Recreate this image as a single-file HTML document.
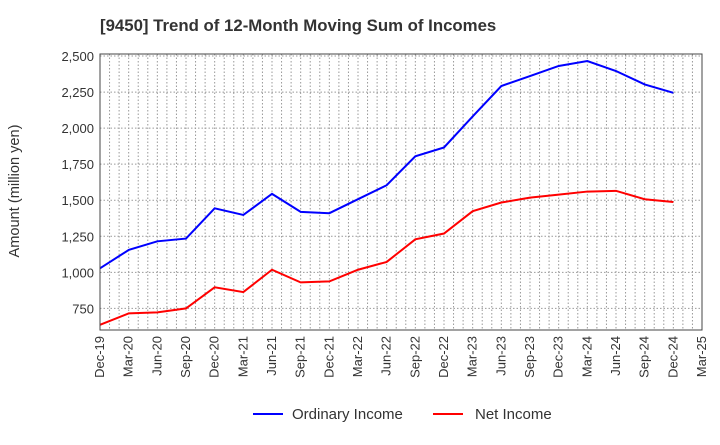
<!DOCTYPE html>
<html><head><meta charset="utf-8"><style>
body{margin:0;background:#fff;font-family:"Liberation Sans",sans-serif}
svg text{font-family:"Liberation Sans",sans-serif}
</style></head><body>
<svg width="720" height="440" id="c">
<text x="100" y="31" font-size="16.8" font-weight="bold" fill="#333">[9450]  Trend of 12-Month Moving Sum of Incomes</text>
<text transform="translate(19,191) rotate(-90)" text-anchor="middle" font-size="14.6" fill="#333">Amount (million yen)</text>
<g id="grid"></g><g id="series"></g><g id="axes"></g>
<g>
<line x1="253" y1="414" x2="283" y2="414" stroke="#0000ff" stroke-width="2"/>
<text x="292" y="419" font-size="15" fill="#333">Ordinary Income</text>
<line x1="433" y1="414" x2="463" y2="414" stroke="#ff0000" stroke-width="2"/>
<text x="475" y="419" font-size="15" fill="#333">Net Income</text>
</g>
</svg>
<script>
const categories=["Dec-19","Mar-20","Jun-20","Sep-20","Dec-20","Mar-21","Jun-21","Sep-21","Dec-21","Mar-22","Jun-22","Sep-22","Dec-22","Mar-23","Jun-23","Sep-23","Dec-23","Mar-24","Jun-24","Sep-24","Dec-24","Mar-25"];
const ordinaryIncome=[1028,1155,1215,1234,1444,1398,1544,1419,1410,1507,1604,1805,1866,2081,2292,2361,2431,2465,2396,2303,2245];
const netIncome=[636,715,722,750,896,863,1018,930,937,1018,1072,1229,1269,1424,1484,1518,1539,1560,1565,1507,1488];
const yTicks=[750,1000,1250,1500,1750,2000,2250,2500];
const L=100,R=702,T=54,B=330,YMIN=600,YMAX=2514;
const sx=i=>L+(R-L)*i/(categories.length-1);
const sy=v=>B-(B-T)*(v-YMIN)/(YMAX-YMIN);
const NS="http://www.w3.org/2000/svg";
function mk(t,a,p){const e=document.createElementNS(NS,t);for(const k in a)e.setAttribute(k,a[k]);p.appendChild(e);return e;}
const grid=document.getElementById('grid'),axes=document.getElementById('axes'),ser=document.getElementById('series');
for(let i=0;i<categories.length*3-2;i++){const x=L+(R-L)*i/((categories.length-1)*3);
const g=mk('line',{x1:x,x2:x,y1:T,y2:B,stroke:'#999','stroke-dasharray':'1.5,2','stroke-width':1},grid);

}
yTicks.forEach(v=>{const g=mk('line',{x1:L,x2:R,y1:sy(v),y2:sy(v),stroke:'#999','stroke-dasharray':'1.5,2','stroke-width':1},grid);


const t=mk('text',{x:L-6,y:sy(v)+5,'text-anchor':'end','font-size':13,fill:'#333'},axes);t.textContent=v.toLocaleString('en-US');

});
categories.forEach((c,i)=>{const x=sx(i);const t=mk('text',{transform:`translate(${x+4},${B+6}) rotate(-90)`,'text-anchor':'end','font-size':13,fill:'#333'},axes);t.textContent=c;

});
const fr=mk('rect',{x:L,y:T,width:R-L,height:B-T,fill:'none',stroke:'#444','stroke-width':1},axes);


[[ordinaryIncome,'#0000ff','ordinary-income-line'],[netIncome,'#ff0000','net-income-line']].forEach(([d,c,n])=>{
const p=mk('polyline',{points:d.map((v,i)=>sx(i)+','+sy(v)).join(' '),fill:'none',stroke:c,'stroke-width':2},ser);

});
</script>
</body></html>
